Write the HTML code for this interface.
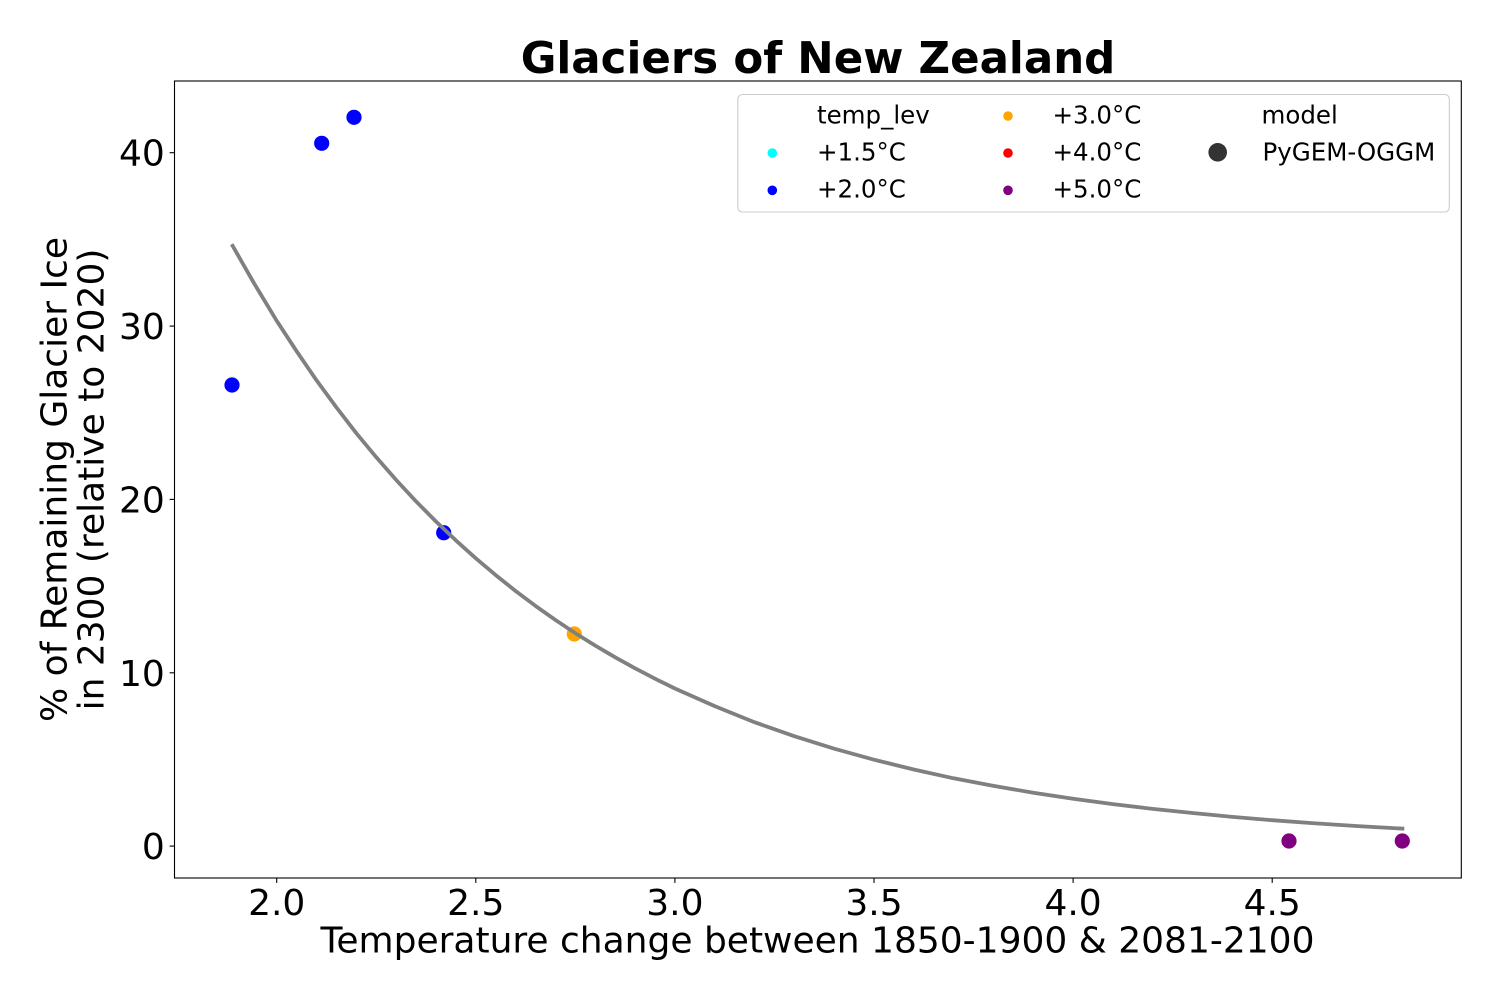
<!DOCTYPE html>
<html>
<head>
<meta charset="utf-8">
<style>
  html, body { margin: 0; padding: 0; background: #ffffff; }
  svg { display: block; }
  text { font-family: "DejaVu Sans", "Liberation Sans", sans-serif; fill: #000; }
</style>
</head>
<body>
<svg width="1500" height="1000" viewBox="0 0 1500 1000" xmlns="http://www.w3.org/2000/svg">
  <rect x="0" y="0" width="1500" height="1000" fill="#ffffff"/>

  <!-- Title -->
  <text x="818" y="73" font-size="43.5" font-weight="bold" text-anchor="middle">Glaciers of New Zealand</text>

  <!-- Scatter points -->
  <g stroke="none">
    <circle cx="232" cy="385" r="7.6" fill="#0000ff"/>
    <circle cx="321.7" cy="143.3" r="7.6" fill="#0000ff"/>
    <circle cx="354" cy="117.3" r="7.6" fill="#0000ff"/>
    <circle cx="443.7" cy="532.7" r="7.6" fill="#0000ff"/>
    <circle cx="574.3" cy="634" r="7.6" fill="#ffa500"/>
    <circle cx="1289" cy="841" r="7.6" fill="#800080"/>
    <circle cx="1402.3" cy="841" r="7.6" fill="#800080"/>
  </g>

  <!-- Fitted curve -->
  <polyline fill="none" stroke="#808080" stroke-width="3.8" stroke-linejoin="round"
    points="231.7,244.2 254.2,283.5 276.7,320.8 296.6,351.2 316.5,380.3 336.4,407.4 356.3,433.2 376.3,457.3 396.2,480.0 416.1,501.4 436.0,521.5 455.9,540.4 475.8,558.3 495.7,575.1 515.6,591.0 535.5,605.9 555.4,619.9 575.3,633.2 595.3,645.6 615.2,657.3 635.1,668.3 655.0,678.7 674.9,688.5 714.7,706.1 754.5,722.2 794.3,736.2 834.2,748.7 874.0,759.7 913.8,769.5 953.6,778.3 993.5,785.9 1033.3,792.7 1073.1,798.8 1112.9,804.1 1152.7,808.9 1192.5,813.0 1232.4,816.9 1272.2,820.2 1312.0,823.1 1358.0,826.1 1404.3,828.7"/>

  <!-- Axes frame -->
  <rect x="174.5" y="81" width="1286.8" height="797" fill="none" stroke="#000" stroke-width="1.1"/>

  <!-- X ticks -->
  <g stroke="#000" stroke-width="1.1">
    <line x1="276.7" y1="878" x2="276.7" y2="882.9"/>
    <line x1="475.8" y1="878" x2="475.8" y2="882.9"/>
    <line x1="674.9" y1="878" x2="674.9" y2="882.9"/>
    <line x1="874.0" y1="878" x2="874.0" y2="882.9"/>
    <line x1="1073.1" y1="878" x2="1073.1" y2="882.9"/>
    <line x1="1272.2" y1="878" x2="1272.2" y2="882.9"/>
  </g>
  <g font-size="36" text-anchor="middle">
    <text x="276.7" y="915">2.0</text>
    <text x="475.8" y="915">2.5</text>
    <text x="674.9" y="915">3.0</text>
    <text x="874.0" y="915">3.5</text>
    <text x="1073.1" y="915">4.0</text>
    <text x="1272.2" y="915">4.5</text>
  </g>

  <!-- Y ticks -->
  <g stroke="#000" stroke-width="1.1">
    <line x1="169.6" y1="846.1" x2="174.5" y2="846.1"/>
    <line x1="169.6" y1="672.8" x2="174.5" y2="672.8"/>
    <line x1="169.6" y1="499.4" x2="174.5" y2="499.4"/>
    <line x1="169.6" y1="326.1" x2="174.5" y2="326.1"/>
    <line x1="169.6" y1="152.7" x2="174.5" y2="152.7"/>
  </g>
  <g font-size="36" text-anchor="end">
    <text x="164.8" y="859.1">0</text>
    <text x="164.8" y="685.8">10</text>
    <text x="164.8" y="512.4">20</text>
    <text x="164.8" y="339.1">30</text>
    <text x="164.8" y="165.7">40</text>
  </g>

  <!-- Axis labels -->
  <text x="817.5" y="952.7" font-size="36" text-anchor="middle">Temperature change between 1850-1900 &amp; 2081-2100</text>
  <g font-size="36" text-anchor="middle">
    <text transform="translate(66.7,479.5) rotate(-90)" x="0" y="0">% of Remaining Glacier Ice</text>
    <text transform="translate(103.3,479.5) rotate(-90)" x="0" y="0">in 2300 (relative to 2020)</text>
  </g>

  <!-- Legend -->
  <rect x="737.8" y="94.5" width="711.5" height="117.5" rx="4.5" ry="4.5" fill="#ffffff" fill-opacity="0.8" stroke="#cccccc" stroke-width="1.1"/>
  <g font-size="24.5">
    <text x="817" y="123.3">temp_lev</text>
    <text x="817" y="160.3">+1.5°C</text>
    <text x="817" y="197.3">+2.0°C</text>
    <text x="1052.5" y="123.3">+3.0°C</text>
    <text x="1052.5" y="160.3">+4.0°C</text>
    <text x="1052.5" y="197.3">+5.0°C</text>
    <text x="1261.5" y="123.3">model</text>
    <text x="1262.5" y="160.3">PyGEM-OGGM</text>
  </g>
  <circle cx="772.3" cy="153" r="4.8" fill="#00ffff"/>
  <circle cx="772.3" cy="190.3" r="4.8" fill="#0000ff"/>
  <circle cx="1008" cy="116" r="4.8" fill="#ffa500"/>
  <circle cx="1008" cy="153" r="4.8" fill="#ff0000"/>
  <circle cx="1008" cy="190.3" r="4.8" fill="#800080"/>
  <circle cx="1217.7" cy="152.3" r="9.3" fill="#333333"/>
</svg>
</body>
</html>
